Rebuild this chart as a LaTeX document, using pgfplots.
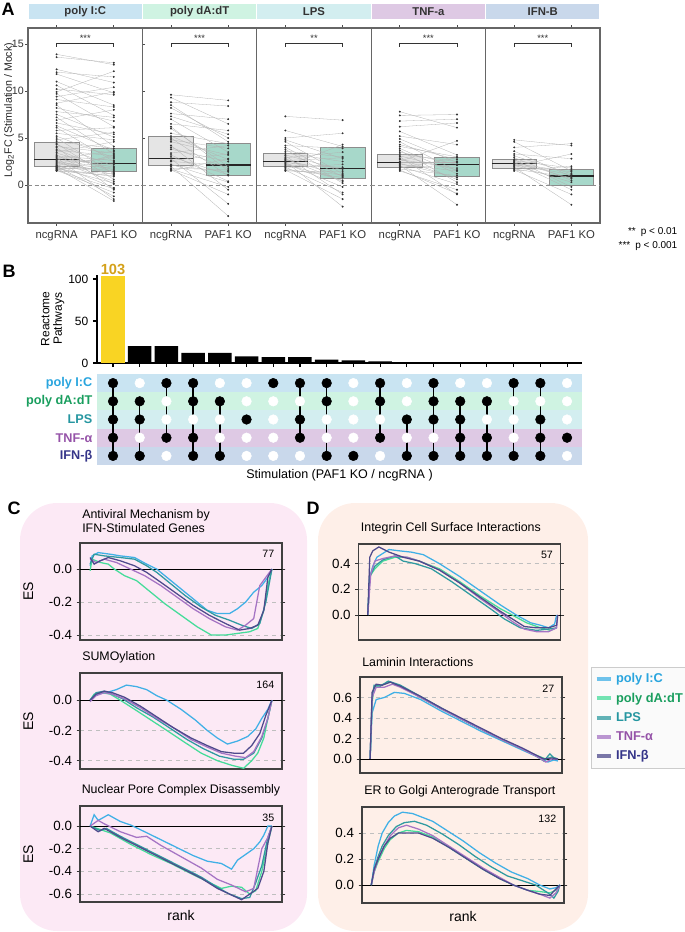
\documentclass[border=0pt]{standalone}
\usepackage{fontspec}
\setmainfont{Liberation Sans}
\usepackage{pgfplots}
\usepackage{pgfplotstable}
\pgfplotsset{compat=1.18}
\usepgfplotslibrary{statistics}

\definecolor{stIC}{HTML}{C9E4F2}
\definecolor{stDA}{HTML}{CFF3E2}
\definecolor{stLPS}{HTML}{D3EEF0}
\definecolor{stTNF}{HTML}{DEC9E4}
\definecolor{stIFN}{HTML}{C9D8EB}
\definecolor{tIC}{HTML}{2AA5DE}
\definecolor{tDA}{HTML}{199E5E}
\definecolor{tLPS}{HTML}{2596A0}
\definecolor{tTNF}{HTML}{9553A8}
\definecolor{tIFN}{HTML}{353589}
\definecolor{cIC}{HTML}{40B0E6}
\definecolor{cDA}{HTML}{45DC9A}
\definecolor{cLPS}{HTML}{2F9AA0}
\definecolor{cTNF}{HTML}{A574C4}
\definecolor{cIFN}{HTML}{4E4A8C}
\definecolor{barY}{HTML}{F9D423}
\definecolor{gold}{HTML}{D4A11A}
\definecolor{koBox}{HTML}{8ACBB8}
\definecolor{bgC}{HTML}{FCE9F5}
\definecolor{bgD}{HTML}{FEEFE8}

% paired log2FC values (ncgRNA -> PAF1 KO)
\pgfplotstableread{
ncg ko
13.9 12.8
13.6 13.0
12.3 10.9
12.0 11.5
11.8 9.8
11.0 8.5
10.6 7.4
10.2 9.6
9.9 12.1
9.7 6.2
9.4 10.4
9.1 8.3
8.7 9.9
8.5 4.1
8.2 6.8
7.8 7.2
7.5 5.1
7.2 3.3
6.9 8.0
6.6 5.4
6.3 3.7
6.1 2.5
5.8 6.1
5.5 4.8
5.2 2.9
5.0 1.2
4.8 5.6
4.6 3.9
4.4 0.6
4.3 2.0
4.1 3.4
4.0 -0.5
3.8 1.3
3.7 3.1
3.5 4.6
3.4 1.6
3.2 0.1
3.1 2.6
3.0 1.9
2.9 -1.5
2.8 3.6
2.7 2.3
2.6 1.1
2.5 0.4
2.4 2.8
2.3 1.8
2.2 -0.3
2.1 3.0
2.05 1.5
2.0 -1.2
1.95 2.4
1.9 1.4
1.85 0.2
1.8 -1.7
1.75 1.7
1.7 0.9
1.65 3.2
1.6 2.2
1.58 -0.4
1.55 -0.8
1.52 1.2
1.5 1.0
}\pIC
\pgfplotstableread{
ncg ko
9.6 9.0
9.3 6.5
8.8 8.4
8.5 4.6
8.2 5.0
7.6 7.0
7.3 5.4
7.0 3.5
6.5 5.8
6.2 1.5
6.0 2.0
5.5 4.4
5.2 2.7
5.0 1.0
4.8 3.9
4.6 3.2
4.2 -0.5
4.0 1.8
3.8 2.5
3.4 4.2
3.2 0.4
3.0 1.1
2.8 -2.0
2.6 3.3
2.5 2.1
2.2 0.3
2.1 1.4
2.0 -3.3
1.8 1.6
1.7 -0.2
1.6 -1.0
1.5 2.8
}\pDA
\pgfplotstableread{
ncg ko
7.3 6.9
5.8 4.1
5.0 5.5
4.8 2.8
4.6 1.2
4.2 3.9
4.0 0.9
3.8 0.2
3.6 3.0
3.4 2.5
3.2 1.6
3.1 -1.0
2.9 3.5
2.8 0.4
2.7 1.0
2.6 2.9
2.5 -2.3
2.4 1.8
2.3 -0.2
2.2 0.5
2.1 1.9
2.0 4.3
1.9 -0.8
1.8 2.2
1.7 0.8
1.6 -1.5
1.55 1.1
1.5 1.4
}\pLPS
\pgfplotstableread{
ncg ko
7.8 6.1
7.4 7.5
6.8 7.0
6.2 6.6
5.7 3.2
5.2 4.3
4.9 2.4
4.6 1.5
4.3 2.7
4.1 3.0
3.9 1.2
3.7 0.3
3.5 2.2
3.3 2.5
3.1 1.6
3.0 -1.0
2.8 0.6
2.7 1.8
2.5 4.7
2.4 2.4
2.3 0.8
2.2 1.5
2.1 -2.1
2.0 0.1
1.9 2.1
1.8 2.9
1.7 1.0
1.6 -0.9
1.5 -0.5
}\pTNF
\pgfplotstableread{
ncg ko
4.8 4.2
4.6 1.5
4.0 4.4
3.6 0.9
3.3 2.8
3.1 1.2
2.9 0.5
2.7 -0.2
2.6 1.8
2.5 0.7
2.4 -0.5
2.3 1.4
2.2 1.1
2.1 0.3
2.0 3.3
1.9 -2.1
1.8 1.6
1.7 0.8
1.6 -1.0
1.5 2.0
}\pIFN

% UpSet membership and intersection sizes
\pgfplotstableread{
col n ic da lps tnf ifn lo hi
1 103 1 1 1 1 1 1 5
2 20 0 1 1 0 1 2 5
3 20 1 0 0 1 0 1 4
4 12 1 1 0 1 1 1 5
5 12 0 1 0 0 1 2 5
6 8 0 0 1 0 0 3 3
7 7 1 0 0 0 0 1 1
8 7 1 0 1 1 0 1 4
9 4 1 1 0 0 1 1 5
10 3 0 0 0 0 1 5 5
11 2 1 1 0 1 0 1 4
12 1 0 0 1 0 1 3 5
13 1 1 1 1 0 1 1 5
14 1 0 1 1 1 1 2 5
15 1 0 1 0 1 1 2 5
16 1 1 0 0 0 1 1 5
17 1 1 0 1 1 1 1 5
18 1 0 0 0 1 0 4 4
}\memb

\pgfplotsset{
  /pgf/number format/assume math mode=true,
  panelA/.style={
    scale only axis, width=85.8pt, height=146.25pt, anchor=south west,
    xmin=0.5, xmax=2.5, ymin=-4.04, ymax=16.7,
    xtick={1,2}, xticklabels={ncgRNA, PAF1 KO},
    ytick={0,5,10,15},
    tick align=outside, major tick length=2pt,
    tick style={black!70, line width=0.6pt},
    axis line style={black!60, line width=0.8pt},
    xticklabel style={font=\fontsize{8.5}{10}\selectfont, text=black!80},
    yticklabel style={font=\fontsize{8}{10}\selectfont, text=black!80, inner sep=1pt},
    title style={at={(0.5,1)}, anchor=south, yshift=0.75pt, inner sep=0pt,
      minimum width=85pt, minimum height=11.25pt,
      font=\bfseries\fontsize{8.5}{10}\selectfont, text=black!80},
  },
  boxbase/.style={draw=black!45,
    /pgfplots/boxplot/draw direction=y,
    /pgfplots/boxplot/box extend=0.78, /pgfplots/boxplot/whisker extend=0,
    /pgfplots/boxplot/every median/.style={black!85, line width=0.9pt}},
  boxN/.style={boxbase, fill=black!12, fill opacity=0.85},
  boxK/.style={boxbase, fill=koBox, fill opacity=0.75},
  pairline/.style={quiver={u=1, v=\thisrow{ko}-\thisrow{ncg}}, black!30, line width=0.22pt},
  pairdot/.style={only marks, mark=*, mark size=0.5pt, black!80},
  gsea/.style={
    scale only axis, width=151.5pt, height=72pt, anchor=south west,
    xmin=0, xmax=1, xtick=\empty,
    tick align=outside, major tick length=2.5pt,
    tick style={black!80, line width=0.6pt},
    axis line style={black!75, line width=0.8pt},
    ymajorgrids, major grid style={black!25, dashed, line width=0.4pt},
    extra y ticks={0}, extra y tick labels={},
    extra y tick style={grid=major, major grid style={black, solid, line width=0.7pt}},
    yticklabel style={font=\fontsize{10}{12}\selectfont,
      /pgf/number format/.cd, fixed, fixed zerofill, precision=1},
    ylabel style={font=\fontsize{10.5}{12}\selectfont},
    xlabel style={font=\fontsize{10.5}{12}\selectfont},
    title style={at={(0,1)}, anchor=south west, inner sep=1.5pt, align=left,
      font=\fontsize{9.3}{10.5}\selectfont},
    every axis plot/.append style={line width=0.95pt},
  },
  sIC/.style={cIC}, sDA/.style={cDA}, sLPS/.style={cLPS},
  sTNF/.style={cTNF}, sIFN/.style={cIFN},
}

\newcommand\sig[1]{%
  \draw[black!45, densely dashed, line width=0.6pt] (axis cs:0.5,0) -- (axis cs:2.5,0);
  \draw[black!80, line width=0.5pt] (axis cs:1,14.7) -- (axis cs:1,15.1) -- (axis cs:2,15.1) -- (axis cs:2,14.7);
  \node[font=\fontsize{7}{8}\selectfont, text=black!80] at (axis cs:1.5,15.65) {#1};}
\newcommand\num[1]{\node[anchor=north east, font=\fontsize{8}{9}\selectfont] at (rel axis cs:0.985,0.97) {#1};}

\begin{document}
\begin{tikzpicture}
% backgrounds and free text, in pixels of the reference
\begin{scope}[x=0.75pt, y=-0.75pt]
  \fill[bgC, rounded corners=28pt] (20,503) rectangle (307,931);
  \fill[bgD, rounded corners=28pt] (318,503) rectangle (588,931);
  \node[font=\bfseries\fontsize{13.5}{15}\selectfont] at (8,9) {A};
  \node[font=\bfseries\fontsize{13.5}{15}\selectfont] at (9,271) {B};
  \node[font=\bfseries\fontsize{13.5}{15}\selectfont] at (14,508) {C};
  \node[font=\bfseries\fontsize{13.5}{15}\selectfont] at (313,508) {D};
  \node[rotate=90, font=\fontsize{8}{9}\selectfont, text=black!85] at (9,110) {Log\textsubscript{2}FC (Stimulation / Mock)};
  \node[anchor=east, align=right, font=\fontsize{7.5}{10.5}\selectfont] at (682,239) {**\enspace p < 0.01\\***\enspace p < 0.001};
\end{scope}

% ---------------- A
\begin{axis}[panelA, at={(21pt,-167.25pt)}, title={poly I:C}, title style={fill=stIC}]
\addplot[boxplot prepared={draw position=1, lower whisker=1.96, lower quartile=1.96, median=2.74, upper quartile=4.55, upper whisker=4.55}, boxN] coordinates {};
\addplot[boxplot prepared={draw position=2, lower whisker=1.42, lower quartile=1.42, median=2.3, upper quartile=3.9, upper whisker=3.9}, boxK] coordinates {};
\addplot[pairline] table[x expr=1, y=ncg] {\pIC};
\addplot[pairdot] table[x expr=1, y=ncg] {\pIC};
\addplot[pairdot] table[x expr=2, y=ko] {\pIC};
\sig{***}
\end{axis}
\begin{axis}[panelA, at={(106.8pt,-167.25pt)}, ytick=\empty, title={poly dA:dT}, title style={fill=stDA}]
\addplot[boxplot prepared={draw position=1, lower whisker=2.06, lower quartile=2.06, median=2.85, upper quartile=5.2, upper whisker=5.2}, boxN] coordinates {};
\addplot[boxplot prepared={draw position=2, lower whisker=1.03, lower quartile=1.03, median=2.13, upper quartile=4.45, upper whisker=4.45}, boxK] coordinates {};
\addplot[pairline] table[x expr=1, y=ncg] {\pDA};
\addplot[pairdot] table[x expr=1, y=ncg] {\pDA};
\addplot[pairdot] table[x expr=2, y=ko] {\pDA};
\sig{***}
\end{axis}
\begin{axis}[panelA, at={(192.6pt,-167.25pt)}, ytick=\empty, title={LPS}, title style={fill=stLPS}]
\addplot[boxplot prepared={draw position=1, lower whisker=1.96, lower quartile=1.96, median=2.49, upper quartile=3.38, upper whisker=3.38}, boxN] coordinates {};
\addplot[boxplot prepared={draw position=2, lower whisker=0.71, lower quartile=0.71, median=1.78, upper quartile=4.05, upper whisker=4.05}, boxK] coordinates {};
\addplot[pairline] table[x expr=1, y=ncg] {\pLPS};
\addplot[pairdot] table[x expr=1, y=ncg] {\pLPS};
\addplot[pairdot] table[x expr=2, y=ko] {\pLPS};
\sig{**}
\end{axis}
\begin{axis}[panelA, at={(278.4pt,-167.25pt)}, ytick=\empty, title={TNF-a}, title style={fill=stTNF}]
\addplot[boxplot prepared={draw position=1, lower whisker=1.88, lower quartile=1.88, median=2.38, upper quartile=3.27, upper whisker=3.27}, boxN] coordinates {};
\addplot[boxplot prepared={draw position=2, lower whisker=0.96, lower quartile=0.96, median=2.2, upper quartile=2.92, upper whisker=2.92}, boxK] coordinates {};
\addplot[pairline] table[x expr=1, y=ncg] {\pTNF};
\addplot[pairdot] table[x expr=1, y=ncg] {\pTNF};
\addplot[pairdot] table[x expr=2, y=ko] {\pTNF};
\sig{***}
\end{axis}
\begin{axis}[panelA, at={(364.2pt,-167.25pt)}, ytick=\empty, title={IFN-B}, title style={fill=stIFN}]
\addplot[boxplot prepared={draw position=1, lower whisker=1.78, lower quartile=1.78, median=2.31, upper quartile=2.74, upper whisker=2.74}, boxN] coordinates {};
\addplot[boxplot prepared={draw position=2, lower whisker=0.0, lower quartile=0.0, median=0.96, upper quartile=1.71, upper whisker=1.71}, boxK] coordinates {};
\addplot[pairline] table[x expr=1, y=ncg] {\pIFN};
\addplot[pairdot] table[x expr=1, y=ncg] {\pIFN};
\addplot[pairdot] table[x expr=2, y=ko] {\pIFN};
\sig{***}
\end{axis}

% ---------------- B bars
\begin{axis}[at={(72.75pt,-272.25pt)}, anchor=south west, scale only axis,
  width=363.75pt, height=66.15pt, xmin=0.4, xmax=18.56, ymin=0, ymax=105,
  axis x line=bottom, axis y line=left, axis line style={-, line width=0.9pt},
  xtick={1,...,18}, xticklabels={}, ytick={0,50,100},
  tick align=outside, major tick length=3pt, tick style={black, line width=0.8pt},
  ticklabel style={font=\fontsize{9}{10}\selectfont},
  ylabel={Reactome\\Pathways}, ylabel style={align=center, font=\fontsize{9}{9.5}\selectfont, yshift=-4pt}]
\addplot[ybar, bar width=0.88, bar shift=0pt, fill=barY, draw=none,
  skip coords between index={1}{18}, nodes near coords,
  every node near coord/.append style={font=\bfseries\fontsize{11}{12}\selectfont, text=gold, inner sep=1pt}]
  table[x=col, y=n] {\memb};
\addplot[ybar, bar width=0.88, bar shift=0pt, fill=black, draw=none,
  skip coords between index={0}{1}] table[x=col, y=n] {\memb};
\end{axis}

% ---------------- B matrix
\begin{axis}[at={(72.75pt,-348.75pt)}, anchor=south west, scale only axis,
  width=363.75pt, height=68.25pt, xmin=0.4, xmax=18.56, ymin=0.5, ymax=5.5,
  y dir=reverse, axis line style={draw=none}, xtick=\empty,
  ytick={1,...,5}, major tick length=0pt, clip=false,
  yticklabels={\textcolor{tIC}{poly I:C}, \textcolor{tDA}{poly dA:dT}, \textcolor{tLPS}{LPS}, \textcolor{tTNF}{TNF-α}, \textcolor{tIFN}{IFN-β}},
  yticklabel style={font=\bfseries\fontsize{9.5}{11}\selectfont},
  xlabel={Stimulation (PAF1 KO / ncgRNA )}, xlabel style={font=\fontsize{9.4}{11}\selectfont}]
\fill[stIC] (axis cs:0.4,0.5) rectangle (axis cs:18.56,1.5);
\fill[stDA] (axis cs:0.4,1.5) rectangle (axis cs:18.56,2.5);
\fill[stLPS] (axis cs:0.4,2.5) rectangle (axis cs:18.56,3.5);
\fill[stTNF] (axis cs:0.4,3.5) rectangle (axis cs:18.56,4.5);
\fill[stIFN] (axis cs:0.4,4.5) rectangle (axis cs:18.56,5.5);
\pgfplotsset{dotstyle/.style={scatter, only marks, mark size=3.6pt, point meta=explicit symbolic,
  scatter/classes={0={mark=*, white}, 1={mark=*, black}}}}
\addplot[dotstyle] table[x=col, y expr=1, meta=ic] {\memb};
\addplot[dotstyle] table[x=col, y expr=2, meta=da] {\memb};
\addplot[dotstyle] table[x=col, y expr=3, meta=lps] {\memb};
\addplot[dotstyle] table[x=col, y expr=4, meta=tnf] {\memb};
\addplot[dotstyle] table[x=col, y expr=5, meta=ifn] {\memb};
\addplot[quiver={u=0, v=\thisrow{hi}-\thisrow{lo}}, black, line width=1.1pt] table[x=col, y=lo] {\memb};
\end{axis}

% ---------------- C
\begin{axis}[gsea, at={(60pt,-480pt)}, height=72.75pt, ymin=-0.43, ymax=0.158,
  ytick={-0.4,-0.2,0}, ylabel={ES}, title={Antiviral Mechanism by\\IFN-Stimulated Genes}]
\addplot[sIC] coordinates {(0.05,0.02)(0.06,0.08)(0.09,0.1)(0.15,0.09)(0.2,0.08)(0.27,0.07)(0.33,0.03)(0.38,0.0)(0.45,-0.07)(0.52,-0.14)(0.58,-0.2)(0.63,-0.25)(0.68,-0.27)(0.74,-0.27)(0.78,-0.24)(0.82,-0.2)(0.86,-0.14)(0.9,-0.1)(0.93,-0.05)(0.95,0.0)};
\addplot[sDA] coordinates {(0.05,-0.01)(0.06,0.06)(0.1,0.04)(0.14,0.03)(0.17,0.0)(0.22,-0.04)(0.28,-0.07)(0.35,-0.14)(0.42,-0.21)(0.5,-0.28)(0.58,-0.35)(0.65,-0.4)(0.72,-0.4)(0.78,-0.39)(0.84,-0.38)(0.88,-0.36)(0.91,-0.25)(0.93,-0.1)(0.95,0.0)};
\addplot[sLPS] coordinates {(0.05,0.03)(0.07,0.09)(0.12,0.08)(0.2,0.07)(0.27,0.06)(0.33,0.02)(0.38,-0.02)(0.45,-0.09)(0.52,-0.16)(0.6,-0.23)(0.67,-0.28)(0.74,-0.31)(0.8,-0.34)(0.85,-0.36)(0.89,-0.33)(0.92,-0.2)(0.95,0.0)};
\addplot[sTNF] coordinates {(0.05,0.06)(0.08,0.04)(0.12,0.06)(0.18,0.04)(0.25,0.0)(0.32,-0.04)(0.4,-0.1)(0.48,-0.17)(0.56,-0.24)(0.64,-0.3)(0.72,-0.35)(0.78,-0.37)(0.82,-0.34)(0.86,-0.3)(0.89,-0.1)(0.92,-0.05)(0.95,0.0)};
\addplot[sIFN] coordinates {(0.05,0.07)(0.07,0.03)(0.1,0.05)(0.14,0.07)(0.2,0.05)(0.27,0.02)(0.33,-0.02)(0.4,-0.08)(0.48,-0.15)(0.56,-0.22)(0.64,-0.28)(0.72,-0.33)(0.79,-0.37)(0.84,-0.36)(0.88,-0.34)(0.91,-0.25)(0.93,-0.05)(0.95,0.0)};
\num{77}
\end{axis}
\begin{axis}[gsea, at={(60pt,-576.75pt)}, ymin=-0.455, ymax=0.18,
  ytick={-0.4,-0.2,0}, ylabel={ES}, title={SUMOylation}]
\addplot[sIC] coordinates {(0.05,0.0)(0.08,0.04)(0.13,0.05)(0.18,0.07)(0.23,0.1)(0.28,0.09)(0.33,0.07)(0.38,0.03)(0.43,0.0)(0.5,-0.06)(0.57,-0.13)(0.63,-0.2)(0.68,-0.25)(0.73,-0.29)(0.78,-0.27)(0.83,-0.24)(0.87,-0.19)(0.9,-0.12)(0.93,-0.06)(0.95,0.0)};
\addplot[sDA] coordinates {(0.05,0.0)(0.07,0.04)(0.11,0.05)(0.15,0.04)(0.2,0.0)(0.27,-0.06)(0.35,-0.13)(0.43,-0.2)(0.52,-0.28)(0.6,-0.35)(0.68,-0.4)(0.75,-0.43)(0.81,-0.45)(0.85,-0.4)(0.88,-0.35)(0.91,-0.25)(0.93,-0.12)(0.95,0.0)};
\addplot[sLPS] coordinates {(0.05,0.0)(0.08,0.05)(0.12,0.06)(0.16,0.04)(0.21,0.01)(0.28,-0.05)(0.36,-0.11)(0.44,-0.18)(0.53,-0.26)(0.61,-0.32)(0.69,-0.37)(0.76,-0.39)(0.81,-0.39)(0.86,-0.35)(0.9,-0.25)(0.93,-0.12)(0.95,0.0)};
\addplot[sTNF] coordinates {(0.05,-0.01)(0.08,0.03)(0.12,0.05)(0.16,0.04)(0.22,0.01)(0.3,-0.05)(0.38,-0.12)(0.46,-0.18)(0.55,-0.26)(0.63,-0.31)(0.7,-0.35)(0.77,-0.37)(0.82,-0.38)(0.86,-0.34)(0.9,-0.24)(0.93,-0.12)(0.95,0.0)};
\addplot[sIFN] coordinates {(0.05,0.0)(0.08,0.04)(0.12,0.06)(0.16,0.05)(0.22,0.02)(0.3,-0.04)(0.38,-0.11)(0.46,-0.18)(0.55,-0.25)(0.63,-0.3)(0.7,-0.34)(0.76,-0.35)(0.81,-0.35)(0.85,-0.3)(0.89,-0.22)(0.92,-0.1)(0.95,0.0)};
\num{164}
\end{axis}
\begin{axis}[gsea, at={(60pt,-676.5pt)}, ymin=-0.67, ymax=0.177,
  ytick={-0.6,-0.4,-0.2,0}, ylabel={ES}, xlabel={rank}, title={Nuclear Pore Complex Disassembly},
  title style={at={(0.5,1)}, anchor=south}]
\addplot[sIC] coordinates {(0.05,0.0)(0.07,0.1)(0.09,0.05)(0.14,0.1)(0.2,0.04)(0.25,0.01)(0.32,-0.05)(0.4,-0.12)(0.48,-0.19)(0.56,-0.26)(0.63,-0.31)(0.7,-0.33)(0.75,-0.38)(0.78,-0.3)(0.82,-0.25)(0.86,-0.2)(0.89,-0.14)(0.91,-0.08)(0.93,0.0)(0.95,0.0)};
\addplot[sDA] coordinates {(0.05,0.0)(0.1,-0.03)(0.15,-0.06)(0.25,-0.16)(0.35,-0.25)(0.45,-0.33)(0.55,-0.42)(0.63,-0.49)(0.7,-0.55)(0.75,-0.53)(0.8,-0.54)(0.84,-0.6)(0.87,-0.57)(0.9,-0.4)(0.93,-0.15)(0.95,0.0)};
\addplot[sLPS] coordinates {(0.05,0.0)(0.1,-0.04)(0.13,-0.02)(0.2,-0.09)(0.3,-0.18)(0.4,-0.27)(0.5,-0.36)(0.6,-0.45)(0.68,-0.54)(0.74,-0.6)(0.8,-0.64)(0.84,-0.63)(0.87,-0.5)(0.9,-0.35)(0.93,-0.1)(0.95,0.0)};
\addplot[sTNF] coordinates {(0.05,0.0)(0.09,0.05)(0.12,0.02)(0.2,-0.05)(0.28,-0.1)(0.33,-0.09)(0.4,-0.17)(0.5,-0.27)(0.6,-0.37)(0.68,-0.47)(0.75,-0.52)(0.82,-0.58)(0.86,-0.55)(0.9,-0.2)(0.93,-0.1)(0.95,0.0)};
\addplot[sIFN] coordinates {(0.05,0.0)(0.09,-0.05)(0.12,-0.02)(0.2,-0.1)(0.3,-0.19)(0.4,-0.28)(0.5,-0.37)(0.6,-0.46)(0.68,-0.55)(0.74,-0.6)(0.8,-0.65)(0.84,-0.6)(0.88,-0.55)(0.91,-0.4)(0.93,-0.15)(0.95,0.0)};
\num{35}
\end{axis}

% ---------------- D
\begin{axis}[gsea, at={(269pt,-480pt)}, ymin=-0.195, ymax=0.553,
  ytick={0,0.2,0.4}, title={Integrin Cell Surface Interactions}]
\addplot[sIC] coordinates {(0.045,0.0)(0.055,0.3)(0.07,0.38)(0.09,0.45)(0.12,0.48)(0.15,0.51)(0.2,0.5)(0.26,0.49)(0.32,0.47)(0.4,0.4)(0.5,0.3)(0.6,0.19)(0.7,0.08)(0.78,0.0)(0.85,-0.06)(0.9,-0.08)(0.94,-0.1)(0.97,-0.07)(0.98,0.0)};
\addplot[sDA] coordinates {(0.045,0.0)(0.055,0.3)(0.08,0.36)(0.12,0.42)(0.18,0.45)(0.24,0.45)(0.3,0.42)(0.4,0.36)(0.5,0.26)(0.6,0.15)(0.7,0.05)(0.76,0.0)(0.83,-0.06)(0.9,-0.1)(0.95,-0.12)(0.98,-0.1)};
\addplot[sLPS] coordinates {(0.045,0.0)(0.055,0.3)(0.08,0.38)(0.12,0.43)(0.18,0.46)(0.22,0.42)(0.28,0.4)(0.36,0.36)(0.46,0.26)(0.56,0.15)(0.66,0.04)(0.72,-0.03)(0.8,-0.1)(0.88,-0.12)(0.94,-0.11)(0.98,-0.1)};
\addplot[sTNF] coordinates {(0.045,0.0)(0.06,0.32)(0.08,0.42)(0.12,0.44)(0.18,0.46)(0.24,0.45)(0.3,0.42)(0.4,0.35)(0.5,0.25)(0.6,0.13)(0.7,0.02)(0.76,-0.05)(0.82,-0.11)(0.88,-0.13)(0.94,-0.13)(0.98,-0.1)(0.985,0.0)};
\addplot[sIFN] coordinates {(0.045,0.0)(0.055,0.45)(0.07,0.5)(0.1,0.53)(0.15,0.49)(0.22,0.45)(0.3,0.42)(0.4,0.35)(0.5,0.25)(0.6,0.14)(0.7,0.03)(0.76,-0.03)(0.82,-0.09)(0.88,-0.1)(0.94,-0.1)(0.98,-0.08)(0.985,0.0)};
\num{57}
\end{axis}
\begin{axis}[gsea, at={(270pt,-579.75pt)}, ymin=-0.137, ymax=0.8,
  ytick={0,0.2,0.4,0.6}, title={Laminin Interactions},
  legend style={at={(1.144,1.104)}, anchor=north west, draw=black!20, fill=black!2,
    font=\bfseries\fontsize{9.6}{11}\selectfont, row sep=2.2pt, inner sep=2.5pt},
  legend cell align=left,
  legend image code/.code={\draw[#1, line width=3pt, opacity=0.75] (0pt,0pt) -- (11pt,0pt);}]
\addplot[sIC] coordinates {(0.05,0.0)(0.06,0.45)(0.08,0.58)(0.12,0.6)(0.17,0.65)(0.22,0.64)(0.3,0.58)(0.4,0.47)(0.5,0.37)(0.6,0.27)(0.7,0.18)(0.8,0.09)(0.88,0.02)(0.93,-0.03)(0.96,-0.01)(0.98,-0.02)};
\addlegendentry{\textcolor{tIC}{poly I:C}}
\addplot[sDA] coordinates {(0.05,0.0)(0.06,0.55)(0.07,0.7)(0.1,0.72)(0.15,0.75)(0.2,0.71)(0.3,0.6)(0.4,0.49)(0.5,0.39)(0.6,0.29)(0.7,0.19)(0.8,0.1)(0.88,0.03)(0.92,0.0)(0.95,0.02)(0.98,0.0)};
\addlegendentry{\textcolor{tDA}{poly dA:dT}}
\addplot[sLPS] coordinates {(0.05,0.0)(0.06,0.6)(0.07,0.72)(0.1,0.71)(0.14,0.76)(0.2,0.72)(0.3,0.61)(0.4,0.5)(0.5,0.39)(0.6,0.29)(0.7,0.19)(0.8,0.1)(0.87,0.03)(0.91,-0.02)(0.94,0.05)(0.96,0.01)(0.98,0.0)};
\addlegendentry{\textcolor{tLPS}{LPS}}
\addplot[sTNF] coordinates {(0.05,0.0)(0.06,0.6)(0.08,0.7)(0.12,0.7)(0.16,0.73)(0.2,0.7)(0.3,0.6)(0.4,0.49)(0.5,0.39)(0.6,0.29)(0.7,0.19)(0.8,0.1)(0.88,0.02)(0.92,-0.03)(0.95,0.0)(0.98,0.0)};
\addlegendentry{\textcolor{tTNF}{TNF-α}}
\addplot[sIFN] coordinates {(0.05,0.0)(0.06,0.65)(0.08,0.73)(0.11,0.72)(0.15,0.75)(0.2,0.71)(0.3,0.61)(0.4,0.5)(0.5,0.4)(0.6,0.3)(0.7,0.2)(0.8,0.11)(0.87,0.04)(0.91,0.0)(0.95,0.01)(0.98,0.0)};
\addlegendentry{\textcolor{tIFN}{IFN-β}}
\num{27}
\end{axis}
\begin{axis}[gsea, at={(271.5pt,-677.25pt)}, ymin=-0.138, ymax=0.6,
  ytick={0,0.2,0.4}, xlabel={rank}, title={ER to Golgi Anterograde Transport}]
\addplot[sIC] coordinates {(0.046,0.0)(0.06,0.15)(0.08,0.3)(0.1,0.4)(0.13,0.48)(0.16,0.53)(0.2,0.56)(0.25,0.55)(0.3,0.52)(0.35,0.49)(0.42,0.42)(0.5,0.34)(0.58,0.25)(0.66,0.17)(0.74,0.1)(0.82,0.05)(0.88,0.0)(0.93,-0.03)(0.96,-0.02)(0.98,0.0)};
\addplot[sDA] coordinates {(0.046,0.0)(0.06,0.1)(0.08,0.18)(0.11,0.28)(0.14,0.35)(0.18,0.4)(0.22,0.42)(0.28,0.41)(0.35,0.37)(0.43,0.29)(0.52,0.2)(0.6,0.12)(0.68,0.05)(0.75,0.0)(0.82,-0.04)(0.88,-0.05)(0.93,-0.06)(0.96,-0.04)(0.98,0.0)};
\addplot[sLPS] coordinates {(0.046,0.0)(0.06,0.12)(0.08,0.22)(0.1,0.3)(0.13,0.38)(0.17,0.45)(0.21,0.48)(0.26,0.49)(0.32,0.46)(0.4,0.39)(0.48,0.31)(0.56,0.22)(0.64,0.14)(0.72,0.07)(0.8,0.03)(0.86,0.0)(0.92,-0.06)(0.95,-0.1)(0.97,-0.05)(0.98,0.0)};
\addplot[sTNF] coordinates {(0.046,0.0)(0.06,0.1)(0.08,0.2)(0.11,0.3)(0.14,0.38)(0.18,0.44)(0.22,0.46)(0.28,0.43)(0.35,0.38)(0.43,0.3)(0.52,0.21)(0.6,0.13)(0.68,0.06)(0.75,0.0)(0.82,-0.04)(0.88,-0.07)(0.93,-0.1)(0.96,-0.06)(0.98,0.0)};
\addplot[sIFN] coordinates {(0.046,0.0)(0.06,0.12)(0.08,0.2)(0.11,0.3)(0.14,0.36)(0.18,0.4)(0.22,0.4)(0.28,0.4)(0.35,0.36)(0.43,0.29)(0.52,0.2)(0.6,0.12)(0.68,0.05)(0.75,0.0)(0.82,-0.04)(0.88,-0.07)(0.93,-0.08)(0.96,-0.03)(0.98,0.0)};
\num{132}
\end{axis}

\begin{scope}[x=0.75pt, y=-0.75pt]
\pgfresetboundingbox
\useasboundingbox (0,0) rectangle (685,932);
\end{scope}
\end{tikzpicture}
\end{document}
